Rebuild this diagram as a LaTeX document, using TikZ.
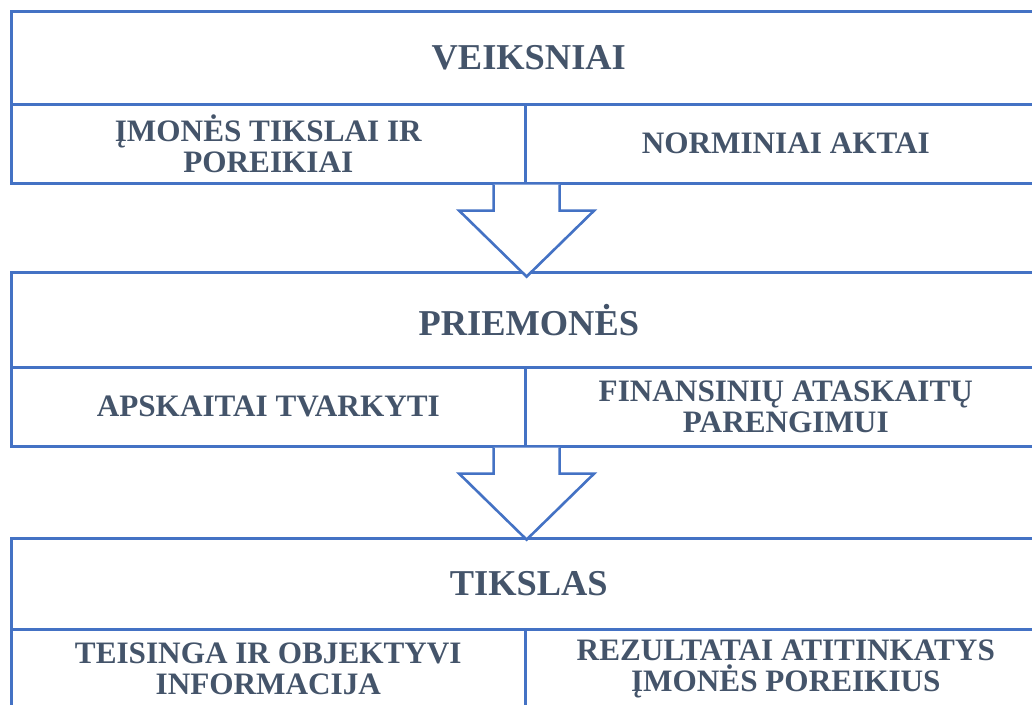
\documentclass[tikz,border=0pt]{standalone}
\usepackage{fontspec}
\setmainfont{Liberation Serif}
\usetikzlibrary{calc}
\definecolor{boxblue}{HTML}{4472C4}
\definecolor{txt}{HTML}{44546A}
\tikzset{
  titlebox/.style={draw=boxblue, line width=2.6pt, anchor=north west, minimum width=1035pt, minimum height=93pt, inner sep=0pt, text=txt, font=\fontsize{36.4}{40}\selectfont\bfseries},
  cellbox/.style={draw=boxblue, line width=2.6pt, anchor=north west, inner sep=0pt, text=txt, align=center, font=\fontsize{31.2}{31}\selectfont\bfseries},
  blockarrow/.style={draw=boxblue, line width=2.6pt, fill=white, line join=miter}
}
\begin{document}
\begin{tikzpicture}[x=1pt,y=-1pt]
\useasboundingbox (0,0) rectangle (1032,704);
\begin{scope}
\clip (0,0) rectangle (1032,704);
% box 1
\node[titlebox] (t1) at (10,10) {VEIKSNIAI};
\node[cellbox, minimum width=514pt, minimum height=79pt] (c1l) at (10,103) {ĮMONĖS TIKSLAI IR\\POREIKIAI};
\node[cellbox, minimum width=521pt, minimum height=79pt] (c1r) at (524,103) {NORMINIAI AKTAI};
% box 2
\node[titlebox, minimum height=95pt] (t2) at (10,271) {PRIEMONĖS};
\node[cellbox, minimum width=514pt, minimum height=79pt] (c2l) at (10,366) {APSKAITAI TVARKYTI};
\node[cellbox, minimum width=521pt, minimum height=79pt] (c2r) at (524,366) {FINANSINIŲ ATASKAITŲ\\PARENGIMUI};
% box 3
\node[titlebox, minimum height=91pt] (t3) at (10,537) {TIKSLAS};
\node[cellbox, minimum width=514pt, minimum height=79pt] (c3l) at (10,628) {TEISINGA IR OBJEKTYVI\\INFORMACIJA};
\node[cellbox, minimum width=521pt, minimum height=79pt] (c3r) at (524,628) {REZULTATAI ATITINKATYS\\ĮMONĖS POREIKIUS};
% arrows
\coordinate (a1) at (c1l.south east);
\draw[blockarrow] ($(a1)+(-33,0)$) -- ($(a1)+(-33,26)$) -- ($(a1)+(-67.5,26)$)
  -- ($(a1)+(0,92)$) -- ($(a1)+(67.5,26)$) -- ($(a1)+(33,26)$) -- ($(a1)+(33,0)$);
\coordinate (a2) at (c2l.south east);
\draw[blockarrow] ($(a2)+(-33,0)$) -- ($(a2)+(-33,26)$) -- ($(a2)+(-67.5,26)$)
  -- ($(a2)+(0,92)$) -- ($(a2)+(67.5,26)$) -- ($(a2)+(33,26)$) -- ($(a2)+(33,0)$);
\end{scope}
\end{tikzpicture}
\end{document}
